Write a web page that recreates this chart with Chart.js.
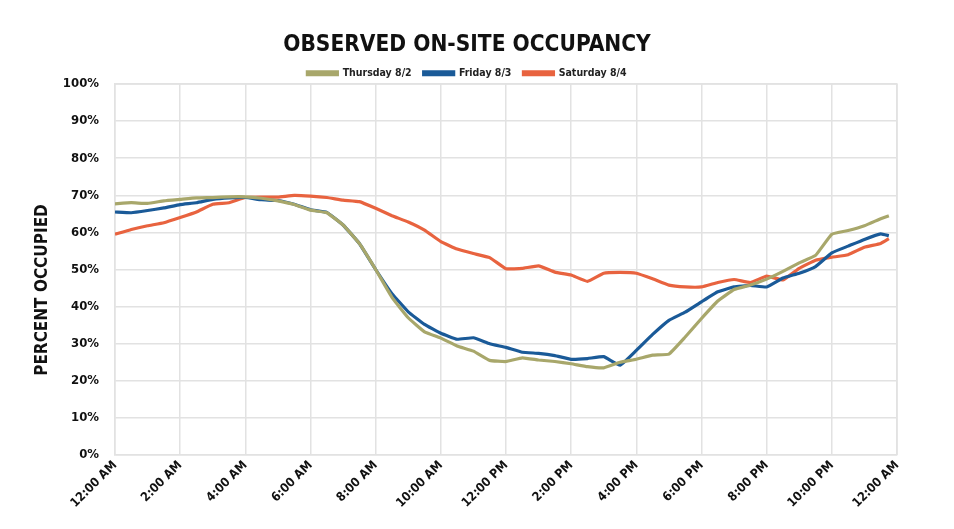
<!DOCTYPE html>
<html>
<head>
<meta charset="utf-8">
<script src="https://cdn.jsdelivr.net/npm/chart.js@4.4.0/dist/chart.umd.min.js"></script>
<style>
    html, body { margin: 0; padding: 0; background: #fff; }
    #box { width: 954px; height: 529px; position: relative; }
</style>
</head>
<body>
<div id="box"><canvas id="ocupacao"></canvas></div>
<script>
// horas do dia (0 = meia-noite)
var horas = [0, 0.5, 1, 1.5, 2, 2.5, 3, 3.5, 4, 4.5, 5, 5.5, 6, 6.5, 7, 7.5, 8, 8.5, 9, 9.5,
    10, 10.5, 11, 11.5, 12, 12.5, 13, 13.5, 14, 14.5, 15, 15.5, 16, 16.5, 17, 17.5, 18, 18.5, 19, 19.5,
    20, 20.5, 21, 21.5, 22, 22.5, 23, 23.5, 23.75];

var thursday = [67.7, 68, 67.8, 68.5, 68.9, 69.3, 69.4, 69.6, 69.6, 69.2, 68.5, 67.5, 66, 65.3, 62, 57, 50, 42.5, 37, 33.2,
    31.5, 29.4, 28, 25.5, 25.2, 26.2, 25.6, 25.2, 24.6, 23.8, 23.5, 25, 25.8, 26.9, 27.2, 31.8, 36.8, 41.5, 44.6, 45.8,
    47.4, 49.5, 51.8, 53.8, 59.5, 60.5, 61.8, 63.7, 64.5];

var friday = [65.5, 65.3, 65.9, 66.6, 67.5, 68, 68.9, 69.3, 69.4, 68.8, 68.6, 67.6, 66.1, 65.4, 62, 57, 50, 43.5, 38.6, 35.2,
    32.8, 31.2, 31.6, 30, 29, 27.7, 27.4, 26.8, 25.8, 26, 26.5, 24.2, 28.2, 32.5, 36.3, 38.5, 41.3, 44, 45.3, 45.7,
    45.3, 47.7, 49, 50.8, 54.5, 56.3, 58.1, 59.6, 59.1];

var saturday = [59.5, 60.8, 61.8, 62.6, 64, 65.5, 67.6, 68, 69.4, 69.5, 69.5, 70, 69.8, 69.4, 68.7, 68.3, 66.5, 64.5, 62.8, 60.6,
    57.5, 55.5, 54.3, 53.2, 50.2, 50.3, 51, 49.3, 48.5, 46.8, 49, 49.2, 49, 47.5, 45.8, 45.3, 45.3, 46.5, 47.3, 46.5,
    48.2, 47.2, 50.3, 52.5, 53.3, 54, 56, 57, 58.3];

var rotulosX = ['12:00 AM', '2:00 AM', '4:00 AM', '6:00 AM', '8:00 AM', '10:00 AM', '12:00 PM',
    '2:00 PM', '4:00 PM', '6:00 PM', '8:00 PM', '10:00 PM', '12:00 AM'];

var series = ['Thursday 8/2', 'Friday 8/3', 'Saturday 8/4'];
var cores = ['#a8a76b', '#1a5a98', '#e8633f'];

function pontos(valores) {
    return valores.map(function (v, i) { return { x: horas[i], y: v }; });
}

var fonte = '"DejaVu Sans Condensed", "DejaVu Sans", sans-serif';
Chart.defaults.font.family = fonte;
Chart.defaults.color = '#1a1a1a';

var ctx = document.getElementById('ocupacao');
var myChart = new Chart(ctx, {
    type: 'line',
    data: {
        datasets: [thursday, friday, saturday].map(function (valores, i) {
            return {
                label: series[i],
                data: pontos(valores),
                borderColor: cores[i],
                backgroundColor: cores[i],
                borderWidth: 3.2,
                pointRadius: 0,
                tension: 0.1
            };
        })
    },
    options: {
        responsive: true,
        maintainAspectRatio: false,
        animation: false,
        layout: {
            padding: { left: 37, right: 57, top: 0, bottom: 0 }
        },
        plugins: {
            title: {
                display: true,
                text: 'OBSERVED ON-SITE OCCUPANCY',
                color: '#111',
                font: { size: 22.5, weight: 'bold' },
                padding: { top: 32, bottom: -3 }
            },
            legend: {
                position: 'top',
                maxHeight: 28,
                labels: {
                    boxWidth: 30,
                    boxHeight: 3,
                    padding: 12,
                    color: '#222',
                    font: { size: 10.5, weight: 'bold' }
                }
            },
            tooltip: { enabled: false }
        },
        scales: {
            x: {
                type: 'linear',
                min: 0,
                max: 24,
                ticks: {
                    stepSize: 2,
                    maxRotation: 45,
                    minRotation: 45,
                    color: '#111',
                    font: { size: 12.5, weight: 'bold' },
                    callback: function (v) { return rotulosX[v / 2]; }
                },
                grid: { color: '#e2e2e2', lineWidth: 1.5, drawTicks: false },
                border: { color: '#e2e2e2', width: 1.5 },
                afterFit: function (scale) { scale.height = 74; }
            },
            y: {
                min: 0,
                max: 100,
                ticks: {
                    stepSize: 10,
                    padding: 16,
                    color: '#111',
                    font: { size: 13, weight: 'bold' },
                    callback: function (v) { return v + '%'; }
                },
                grid: { color: '#e2e2e2', lineWidth: 1.5, drawTicks: false },
                border: { color: '#e2e2e2', width: 1.5 },
                afterFit: function (scale) { scale.width = 78; }
            }
        }
    },
    plugins: [{
        id: 'bordaETitulo',
        afterDraw: function (chart) {
            var a = chart.chartArea;
            var c = chart.ctx;
            c.save();
            c.strokeStyle = '#e2e2e2';
            c.lineWidth = 1.5;
            c.beginPath();
            c.moveTo(a.left, a.top);
            c.lineTo(a.right, a.top);
            c.lineTo(a.right, a.bottom);
            c.stroke();
            // titulo do eixo y, um pouco abaixo do centro como no original
            c.translate(43, 290);
            c.rotate(-Math.PI / 2);
            c.fillStyle = '#111';
            c.font = 'bold 17px ' + fonte;
            c.textAlign = 'center';
            c.textBaseline = 'middle';
            c.fillText('PERCENT OCCUPIED', 0, 0);
            c.restore();
        }
    }]
});
</script>
</body>
</html>
